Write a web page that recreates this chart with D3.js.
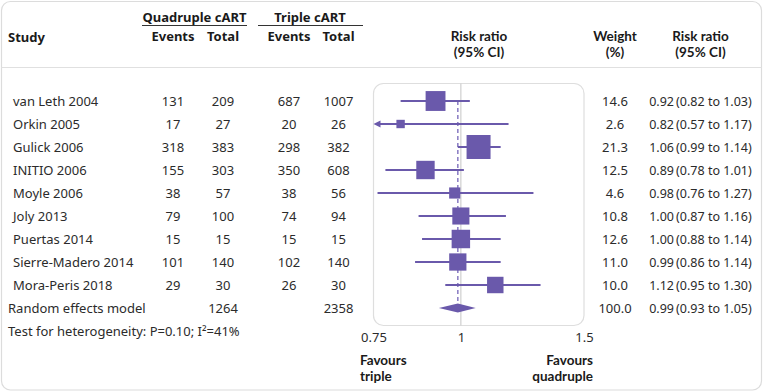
<!DOCTYPE html>
<html><head><meta charset="utf-8">
<script src="https://cdn.jsdelivr.net/npm/d3@7"></script>
<style>
html,body{margin:0;padding:0;background:#fff;}
svg{display:block;font-family:"Noto Sans",sans-serif;}
</style></head>
<body><svg id="c" width="763" height="392"></svg>
<script>
const studies = ["van Leth 2004","Orkin 2005","Gulick 2006","INITIO 2006","Moyle 2006","Joly 2013","Puertas 2014","Sierre-Madero 2014","Mora-Peris 2018"];
const quadEvents = [131,17,318,155,38,79,15,101,29];
const quadTotal = [209,27,383,303,57,100,15,140,30];
const tripEvents = [687,20,298,350,38,74,15,102,26];
const tripTotal = [1007,26,382,608,56,94,15,140,30];
const rr = [0.92,0.82,1.06,0.89,0.98,1.00,1.00,0.99,1.12];
const lo = [0.82,0.57,0.99,0.78,0.76,0.87,0.88,0.86,0.95];
const hi = [1.03,1.17,1.14,1.01,1.27,1.16,1.14,1.14,1.30];
const weight = [14.6,2.6,21.3,12.5,4.6,10.8,12.6,11.0,10.0];
const pooled = {label:"Random effects model", quadTotal:1264, tripTotal:2358, rr:0.99, lo:0.93, hi:1.05, weight:100.0};
const heterogeneity = "Test for heterogeneity: P=0.10; I²=41%";
const xTicks = [0.75,1,1.5];

const purple = "#6a59ab";
const txt = "#2b2b2b";
const dark = "#1a1a1a";
const FS = 13;
const svg = d3.select("#c");

// frame
svg.append("rect").attr("x",1.5).attr("y",1.5).attr("width",760).attr("height",388.5)
  .attr("rx",9).attr("fill","none").attr("stroke","#dcdcdc").attr("stroke-width",1.2);
svg.append("line").attr("x1",1.5).attr("x2",761.5).attr("y1",67.5).attr("y2",67.5)
  .attr("stroke","#e0e0e0").attr("stroke-width",1.2);

const x = d3.scaleLog().domain([0.75,1.5]).range([373.5,584]);
const y = d3.scaleLinear().domain([0,9]).range([101,308]);

function t(xp,yp,s,opt={}){
  return svg.append("text").attr("x",xp).attr("y",yp).text(s)
    .attr("font-size",opt.size||FS).attr("font-weight",opt.bold?700:400)
    .attr("text-anchor",opt.anchor||"start").attr("fill",opt.color||txt);
}
function t2(xp,yp,lines,opt={}){
  const el = svg.append("text").attr("x",xp).attr("y",yp)
    .attr("font-family","Lato, 'Noto Sans', sans-serif")
    .attr("font-size",opt.size||13.5).attr("font-weight",opt.bold?700:400)
    .attr("text-anchor",opt.anchor||"start").attr("fill",opt.color||txt);
  lines.forEach((l,i)=>el.append("tspan").attr("x",xp).attr("dy",i?opt.lh||16.3:0).text(l));
  return el;
}
t(8,42,"Study",{bold:true,color:dark});
t(194.5,22,"Quadruple cART",{bold:true,anchor:"middle",color:dark});
t(310,22,"Triple cART",{bold:true,anchor:"middle",color:dark});
svg.append("line").attr("x1",142).attr("x2",247).attr("y1",25.5).attr("y2",25.5).attr("stroke","#333");
svg.append("line").attr("x1",258).attr("x2",363).attr("y1",25.5).attr("y2",25.5).attr("stroke","#333");
const colX = [173,223,289,338.5];
["Events","Total","Events","Total"].forEach((s,i)=>t(colX[i],41,s,{bold:true,anchor:"middle",color:dark}));
t2(479,41,["Risk ratio","(95% CI)"],{bold:true,anchor:"middle",color:dark});
t2(615,41,["Weight","(%)"],{bold:true,anchor:"middle",color:dark});
t2(700.5,41,["Risk ratio","(95% CI)"],{bold:true,anchor:"middle",color:dark});

// plot box
svg.append("rect").attr("x",x(0.75)).attr("y",83.5).attr("width",x(1.5)-x(0.75)).attr("height",242)
  .attr("rx",10).attr("fill","none").attr("stroke","#dedede").attr("stroke-width",1.2);
svg.append("line").attr("x1",x(1)).attr("x2",x(1)).attr("y1",83.5).attr("y2",325.5)
  .attr("stroke","#cfcfcf").attr("stroke-width",1.2);

// axis tick labels
const ax = svg.append("g").attr("transform","translate(0,341.5)")
  .call(d3.axisBottom(x).tickValues(xTicks).tickFormat(d3.format("")).tickSize(0).tickPadding(0));
ax.select(".domain").remove();
ax.selectAll("text").attr("font-size",FS).attr("fill",txt).attr("font-family","Noto Sans").attr("dy",0);

t2(360,364.5,["Favours","triple"],{bold:true,color:dark});
t2(593,364.5,["Favours","quadruple"],{bold:true,anchor:"end",color:dark});

// pooled dashed line
svg.append("line").attr("x1",x(pooled.rr)).attr("x2",x(pooled.rr)).attr("y1",y(0)).attr("y2",y(9))
  .attr("stroke","#8f82c6").attr("stroke-width",1.6).attr("stroke-dasharray","4,3");

const fmt2 = d3.format(".2f"), fmt1 = d3.format(".1f");
const ciText = (a,b,c)=>`${fmt2(a)}\u2009(${fmt2(b)} to ${fmt2(c)})`;
studies.forEach((s,i)=>{
  const yy = y(i);
  t(13,yy+4.5,s);
  [quadEvents[i],quadTotal[i],tripEvents[i],tripTotal[i]].forEach((v,j)=>t(colX[j],yy+4.5,v,{anchor:"middle"}));
  t(615,yy+4.5,fmt1(weight[i]),{anchor:"middle"});
  t(700.5,yy+4.5,ciText(rr[i],lo[i],hi[i]),{anchor:"middle",size:12.5});
  const clipped = lo[i] < x.domain()[0];
  const x0 = clipped ? x(x.domain()[0]) + 5 : x(lo[i]);
  svg.append("line").attr("x1",x0).attr("x2",x(hi[i])).attr("y1",yy).attr("y2",yy)
    .attr("stroke",purple).attr("stroke-width",2);
  if (clipped){
    const ax0 = x(x.domain()[0]);
    svg.append("path").attr("d",`M${ax0},${yy} L${ax0+7},${yy-3.5} L${ax0+7},${yy+3.5} Z`).attr("fill",purple);
  }
  const side = 5.2*Math.sqrt(weight[i]);
  svg.append("rect").attr("x",x(rr[i])-side/2).attr("y",yy-side/2).attr("width",side).attr("height",side)
    .attr("fill",purple);
});

// pooled row
const py = y(9);
t(8,py+4.5,pooled.label);
t(colX[1],py+4.5,pooled.quadTotal,{anchor:"middle"});
t(colX[3],py+4.5,pooled.tripTotal,{anchor:"middle"});
t(615,py+4.5,fmt1(pooled.weight),{anchor:"middle"});
t(700.5,py+4.5,ciText(pooled.rr,pooled.lo,pooled.hi),{anchor:"middle",size:12.5});
svg.append("path").attr("d",`M${x(pooled.lo)},${py} L${x(pooled.rr)},${py-4.5} L${x(pooled.hi)},${py} L${x(pooled.rr)},${py+4.5} Z`)
  .attr("fill",purple);

t(8,py+28,heterogeneity);
</script></body></html>
